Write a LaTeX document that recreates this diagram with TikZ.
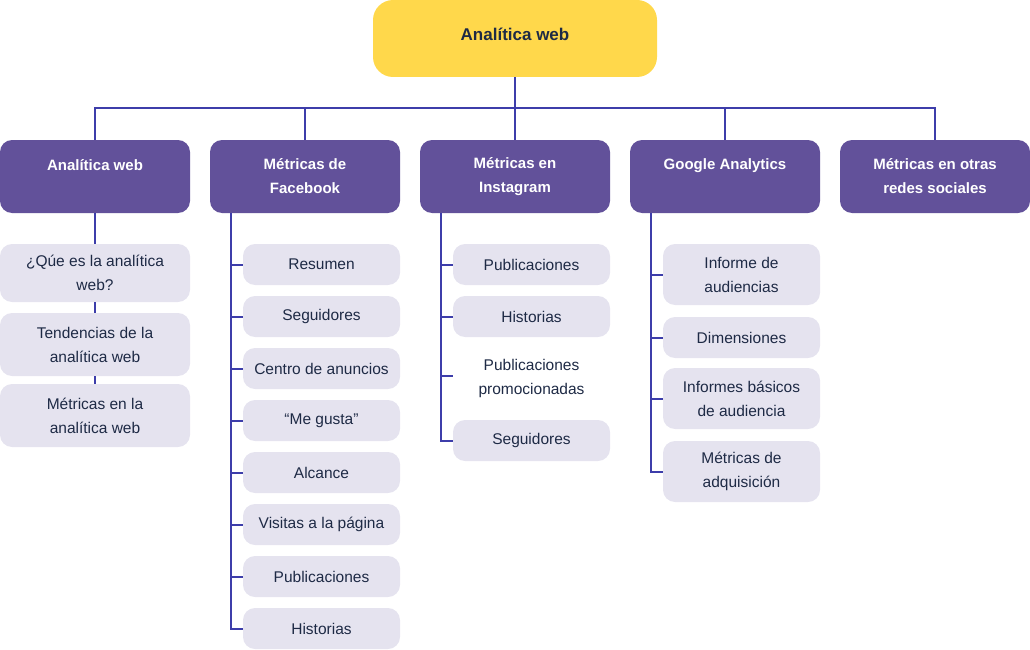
\documentclass[tikz,border=0pt]{standalone}
\usepackage{fontspec}
\setmainfont{Liberation Sans}
\definecolor{yellowc}{HTML}{FFD84B}
\definecolor{purplec}{HTML}{62519A}
\definecolor{lightc}{HTML}{E5E3EF}
\definecolor{linec}{HTML}{3D3DAA}
\definecolor{darkc}{HTML}{1E2A45}
\begin{document}
\begin{tikzpicture}[x=1pt,y=-1pt,
  rootbox/.style={fill=yellowc, rounded corners=20pt, minimum width=284pt, minimum height=77pt, inner sep=0pt},
  roottext/.style={text=darkc, font=\bfseries\fontsize{17}{20}\selectfont, inner sep=0pt},
  hdr/.style={fill=purplec, rounded corners=12pt, minimum width=190pt, minimum height=73pt, text=white, font=\bfseries\fontsize{15}{24}\selectfont, align=center, inner sep=0pt},
  leaf/.style={fill=lightc, rounded corners=12pt, minimum width=157pt, minimum height=41pt, text=darkc, font=\fontsize{15.5}{24}\selectfont, align=center, inner sep=0pt},
  bare/.style={leaf, fill=none},
  wideleaf/.style={leaf, minimum width=190pt},
  wire/.style={draw=linec, line width=2pt}]
\useasboundingbox (0,0) rectangle (1030,650);

% root
\node[rootbox] (root) at (515,38.5) {};
\node[roottext] (roott) at (515,34) {Analítica web};

% headers
\node[hdr] (h1) at (95,176.5) {Analítica web\\ ~};
\node[hdr] (h2) at (305,176.5) {Métricas de\\ Facebook};
\node[hdr] (h3) at (515,176.5) {Métricas en\\ Instagram};
\node[hdr] (h4) at (725,176.5) {Google Analytics\\ ~};
\node[hdr] (h5) at (935,176.5) {Métricas en otras\\ redes sociales};

% bus
\coordinate (bus) at (515,108);
\draw[wire] (root.south) -- (bus);
\foreach \h in {h1,h2,h3,h4,h5} { \draw[wire] (\h.north) |- (bus); }

% column 1
\node[wideleaf, minimum height=58pt] (a1) at (95,273) {¿Qúe es la analítica\\ web?};
\node[wideleaf, minimum height=63pt] (a2) at (95,344.5) {Tendencias de la\\ analítica web};
\node[wideleaf, minimum height=63pt] (a3) at (95,415.5) {Métricas en la\\ analítica web};
\draw[wire] (h1.south) -- (a1.north);
\draw[wire] (a1.south) -- (a2.north);
\draw[wire] (a2.south) -- (a3.north);

% column 2
\node[leaf] (f1) at (321.5,264.5) {Resumen};
\node[leaf] (f2) at (321.5,316.5) {Seguidores};
\node[leaf] (f3) at (321.5,368.5) {Centro de anuncios};
\node[leaf] (f4) at (321.5,420.5) {“Me gusta”};
\node[leaf] (f5) at (321.5,472.5) {Alcance};
\node[leaf] (f6) at (321.5,524.5) {Visitas a la página};
\node[leaf] (f7) at (321.5,576.5) {Publicaciones};
\node[leaf] (f8) at (321.5,628.5) {Historias};
\coordinate (s2) at ([xshift=21pt]h2.south west);
\draw[wire] (s2) |- (f8.west);
\foreach \n in {f1,f2,f3,f4,f5,f6,f7} { \draw[wire] (\n.west) -- (\n.west -| s2); }

% column 3
\node[leaf] (p1) at (531.5,264.5) {Publicaciones};
\node[leaf] (p2) at (531.5,316.5) {Historias};
\node[bare] (p3) at (531.5,378) {Publicaciones\\ promocionadas};
\node[leaf] (p4) at (531.5,440.5) {Seguidores};
\coordinate (s3) at ([xshift=21pt]h3.south west);
\draw[wire] (s3) |- (p4.west);
\foreach \n in {p1,p2} { \draw[wire] (\n.west) -- (\n.west -| s3); }
\draw[wire] ([yshift=2pt]p3.west) -- ([yshift=2pt]p3.west -| s3);

% column 4
\node[leaf, minimum height=61pt] (g1) at (741.5,274.5) {Informe de\\ audiencias};
\node[leaf] (g2) at (741.5,337.5) {Dimensiones};
\node[leaf, minimum height=61pt] (g3) at (741.5,398.5) {Informes básicos\\ de audiencia};
\node[leaf, minimum height=61pt] (g4) at (741.5,471.5) {Métricas de\\ adquisición};
\coordinate (s4) at ([xshift=21pt]h4.south west);
\draw[wire] (s4) |- (g4.west);
\foreach \n in {g1,g2,g3} { \draw[wire] (\n.west) -- (\n.west -| s4); }
\end{tikzpicture}
\end{document}
